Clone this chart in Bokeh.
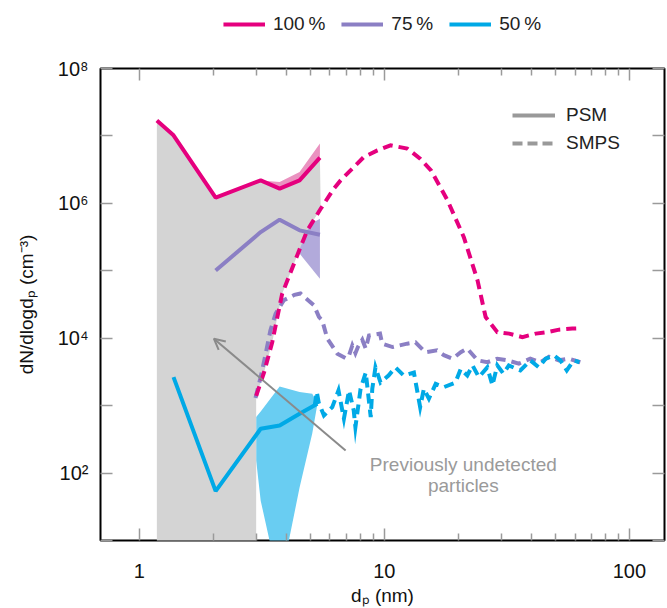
from bokeh.plotting import figure
from bokeh.layouts import column
from bokeh.models import (Legend, LegendItem, Arrow, OpenHead, FixedTicker, LogAxis,
                          Range1d)
from bokeh.core.properties import value
from bokeh.embed import file_html
from bokeh.resources import INLINE

# ---------------- data ----------------
series_labels = ["100\u2009%", "75\u2009%", "50\u2009%"]
colors = ["#e5007e", "#8b7fc4", "#00a9e6"]
band_colors = ["#ea92c0", "#b2aadb", "#69cdf2"]

# PSM (solid)
psm_100_d = [1.18, 1.38, 2.05, 3.13, 3.74, 4.51, 5.46]
psm_100 = [1.70e7, 1.02e7, 1.22e6, 2.19e6, 1.65e6, 2.19e6, 4.76e6]
psm_75_d = [2.05, 3.13, 3.74, 4.51, 5.46]
psm_75 = [1.01e5, 3.75e5, 5.73e5, 3.98e5, 3.43e5]
psm_50_d = [1.38, 2.05, 3.13, 3.74, 4.51, 5.33]
psm_50 = [2.65e3, 54, 454, 508, 759, 1.07e3]

# PSM uncertainty bands
band_100_d = [3.13, 3.74, 4.51, 5.46]
band_100_lo = [2.19e6, 1.65e6, 2.19e6, 4.76e6]
band_100_hi = [2.19e6, 2.07e6, 2.91e6, 7.7e6]
band_75_d = [4.51, 5.46]
band_75_lo = [1.8e5, 7.6e4]
band_75_hi = [3.98e5, 5.9e5]
band_50_d = [3.0, 3.13, 3.74, 4.51, 5.08, 5.33]
band_50_lo = [154, 39, 2.1, 61, 387, 1.05e3]
band_50_hi = [676, 820, 1.93e3, 1.6e3, 1.5e3, 1.1e3]

# SMPS (dashed)
smps_100_d = [3.0, 3.23, 3.49, 3.66, 3.83, 4.55, 4.85, 5.5, 6.22, 6.63, 8.25, 9.37,
              10.6, 12.4, 14.0, 15.5, 18.1, 21.1, 24.0, 25.9, 28.9, 32.3, 36.6,
              41.5, 46.3, 51.6, 58.5, 62.0]
smps_100 = [1.4e3, 3.1e3, 8.8e3, 2.06e4, 4.57e4, 2.25e5, 3.98e5, 8.3e5, 1.65e6,
            2.19e6, 4.87e6, 6.1e6, 7.26e6, 6.5e6, 4.6e6, 3.09e6, 1.11e6, 3.16e5,
            7.2e4, 2.06e4, 1.23e4, 1.17e4, 1.04e4, 1.17e4, 1.23e4, 1.34e4, 1.39e4,
            1.4e4]
smps_75_d = [2.98, 3.13, 3.28, 3.43, 3.6, 3.89, 4.3, 4.55, 5.16, 5.41, 5.58, 5.85,
             6.43, 7.0, 7.18, 7.4, 7.62, 7.8, 8.13, 8.4, 8.66, 9.6, 9.8, 10.8, 12.4,
             13.4, 14.7, 16.4, 17.5, 19.0, 20.5, 21.8, 24.0, 26.3, 28.9, 31.7,
             35.4, 39.4, 43.3, 47.0, 51.6, 56.8, 63.0]
smps_75 = [1.3e3, 2.65e3, 5.9e3, 1.31e4, 2.3e4, 3.66e4, 4.4e4, 4.6e4, 3.08e4,
           2.07e4, 1.84e4, 9.9e3, 5.9e3, 5.0e3, 5.57e3, 7.8e3, 6.0e3, 7.4e3,
           9.5e3, 7.0e3, 1.1e4, 1.17e4, 8.3e3, 7.4e3, 8.3e3, 8.7e3, 6.2e3,
           6.6e3, 5.6e3, 4.97e3, 6.2e3, 7.0e3, 4.7e3, 4.4e3, 4.97e3, 4.7e3,
           4.2e3, 4.97e3, 4.4e3, 5.3e3, 4.7e3, 4.97e3, 4.4e3]
smps_50_d = [5.2, 5.3, 5.4, 5.67, 6.13, 6.5, 6.84, 7.18, 7.5, 7.62, 8.0, 8.4, 8.8,
             8.93, 9.2, 9.65, 10.4, 11.1, 12.0, 13.2, 14.0, 14.5, 15.2, 16.2,
             17.5, 19.5, 20.5, 21.8, 22.9, 24.3, 26.3, 27.6, 28.9, 30.6, 32.2,
             35.9, 39.4, 42.7, 45.5, 49.2, 52.3, 55.5, 59.2, 62.5]
smps_50 = [1.0e3, 1.6e3, 1.1e3, 715, 950, 1.68e3, 640, 1.68e3, 850, 480, 1.78e3,
           3.1e3, 675, 1.78e3, 3.7e3, 2.2e3, 2.8e3, 3.7e3, 2.8e3, 3.1e3, 950,
           1.78e3, 1.27e3, 2.1e3, 1.88e3, 2.2e3, 3.5e3, 2.8e3, 3.95e3, 2.65e3,
           3.7e3, 2.0e3, 3.95e3, 2.98e3, 3.95e3, 3.33e3, 4.7e3, 3.7e3, 4.97e3,
           5.57e3, 4.7e3, 3.33e3, 4.7e3, 4.4e3]

x_major = [1, 10, 100]
x_minor = [2, 3, 4, 5, 6, 7, 8, 9, 20, 30, 40, 50, 60, 70, 80, 90]
y_labelled = [1e2, 1e4, 1e6, 1e8]
y_unlabelled = [10, 1e3, 1e5, 1e7]
y_label_text = {100: "10\u00b2", 10000: "10\u2074", 1000000: "10\u2076",
                100000000: "10\u2078"}
X_MIN, X_MAX = 0.695, 139
Y_MIN, Y_MAX = 10, 1e8

annot_text = "Previously undetected\nparticles"
annot_pos = (21.0, 95.0)
arrow_tail = (6.95, 216)
arrow_head = (2.016, 9.85e3)
PSM_CUT = 5.5

FONT = "Liberation Sans"

# ---------------- legend strip (above the plot) ----------------
lf = figure(width=667, height=48, x_range=(0, 1), y_range=(0, 1),
            output_backend="svg", toolbar_location=None, tools="",
            x_axis_location=None, y_axis_location=None,
            min_border_left=100, min_border_right=3, min_border_top=0,
            min_border_bottom=0)
lf.grid.visible = False
lf.outline_line_color = None
lf.background_fill_color = "white"
lf.border_fill_color = "white"
# legend-only renderers (their points lie outside the strip's ranges)
leg_r = [lf.line([5, 6], [5, 6], line_color=c, line_width=4) for c in colors]
top_leg = Legend(items=[LegendItem(label=lab, renderers=[r])
                        for lab, r in zip(series_labels, leg_r)],
                 orientation="horizontal", location="center",
                 glyph_width=42, glyph_height=20, label_height=20,
                 label_standoff=8, spacing=16,
                 padding=0, margin=0, border_line_color=None,
                 background_fill_alpha=0,
                 label_text_font=FONT, label_text_font_size="19px",
                 label_text_color="#222222")
lf.add_layout(top_leg)

# ---------------- main figure ----------------
p = figure(width=667, height=560, x_axis_type="log", y_axis_type="log",
           x_range=Range1d(X_MIN, X_MAX), y_range=Range1d(Y_MIN, Y_MAX),
           output_backend="svg", toolbar_location=None, tools="",
           min_border_left=100, min_border_right=3, min_border_top=20,
           min_border_bottom=68)
p.grid.visible = False
p.outline_line_color = "black"
p.outline_line_width = 2
p.background_fill_color = "white"
p.border_fill_color = "white"

# bands (under the grey region)
p.varea(x=band_100_d, y1=band_100_lo, y2=band_100_hi, fill_color=band_colors[0])
p.varea(x=band_75_d, y1=band_75_lo, y2=band_75_hi, fill_color=band_colors[1])
p.varea(x=band_50_d, y1=band_50_lo, y2=band_50_hi, fill_color=band_colors[2])

# grey region: below PSM 100 %, left of the SMPS 100 % curve
gx = list(psm_100_d)
gy = list(psm_100)
sm = [(d, v) for d, v in zip(smps_100_d, smps_100) if d <= PSM_CUT]
for d, v in reversed(sm):
    gx.append(d)
    gy.append(v)
gx += [smps_100_d[0], psm_100_d[0]]
gy += [Y_MIN * 0.5, Y_MIN * 0.5]
p.patch(gx, gy, fill_color="#d4d4d4", line_color=None)

# arrow + annotation
p.add_layout(Arrow(end=OpenHead(size=11, line_color="#8a8a8a", line_width=2),
                   x_start=arrow_tail[0], y_start=arrow_tail[1],
                   x_end=arrow_head[0], y_end=arrow_head[1],
                   line_color="#8a8a8a", line_width=2))
p.text(x=[annot_pos[0]], y=[annot_pos[1]], text=[annot_text],
       text_font=value(FONT), text_font_size="19px", text_color="#9a9a9a",
       text_align="center", text_baseline="middle", text_line_height=1.0)

# SMPS dashed
dash = "10 6"
p.line(smps_75_d, smps_75, line_color=colors[1], line_width=4, line_dash=dash,
       line_join="miter")
p.line(smps_50_d, smps_50, line_color=colors[2], line_width=4, line_dash=dash,
       line_join="miter")
p.line(smps_100_d, smps_100, line_color=colors[0], line_width=4, line_dash=dash,
       line_join="miter")

# PSM solid
p.line(psm_100_d, psm_100, line_color=colors[0], line_width=4)
p.line(psm_75_d, psm_75, line_color=colors[1], line_width=4)
p.line(psm_50_d, psm_50, line_color=colors[2], line_width=4)

# inner legend (PSM / SMPS)
g1 = p.line([1, 1], [1, 1], line_color="#999999", line_width=4)
g2 = p.line([1, 1], [1, 1], line_color="#999999", line_width=4, line_dash="10 5")
in_leg = Legend(items=[LegendItem(label="PSM", renderers=[g1]),
                       LegendItem(label="SMPS", renderers=[g2])],
                location=(412, 386), glyph_width=43, glyph_height=20,
                label_standoff=11, spacing=6, padding=0, margin=0,
                border_line_color=None, background_fill_alpha=0,
                label_text_font=FONT, label_text_font_size="19px",
                label_text_color="#222222")
p.add_layout(in_leg)


def style_axis(ax, is_x):
    if is_x:
        ax.ticker = FixedTicker(ticks=x_major, minor_ticks=x_minor)
        ax.minor_tick_in = 7
    else:
        ax.ticker = FixedTicker(ticks=y_labelled, minor_ticks=y_unlabelled)
        ax.minor_tick_in = 12
    ax.axis_line_color = None
    ax.major_tick_in = 12
    ax.major_tick_out = 0
    ax.minor_tick_out = 0
    ax.major_tick_line_color = "#9a9a9a"
    ax.minor_tick_line_color = "#9a9a9a"
    ax.major_tick_line_width = 1.5
    ax.minor_tick_line_width = 1.5
    ax.major_label_text_font = FONT
    ax.major_label_text_color = "#111111"
    ax.major_label_text_font_size = "20px"
    ax.axis_label_text_font = FONT
    ax.axis_label_text_font_style = "normal"
    ax.axis_label_text_color = "#111111"
    ax.axis_label_text_font_size = "19px"


bx = p.xaxis[0]
style_axis(bx, True)
bx.major_label_overrides = {1: "1", 10: "10", 100: "100"}
bx.major_label_standoff = 23
bx.axis_label = "d\u209a (nm)"
bx.axis_label_standoff = 4

ly = p.yaxis[0]
style_axis(ly, False)
ly.major_label_overrides = y_label_text
ly.major_label_standoff = 12
ly.axis_label = "dN/dlogd\u209a (cm\u207b\u00b3)"
ly.axis_label_standoff = 18

# mirrored tick axes (top / right) with invisible labels
top_ax = LogAxis()
style_axis(top_ax, True)
top_ax.major_label_text_alpha = 0
top_ax.major_label_text_font_size = "2px"
top_ax.major_label_standoff = 0
p.add_layout(top_ax, "above")
right_ax = LogAxis()
style_axis(right_ax, False)
right_ax.major_label_text_alpha = 0
right_ax.major_label_text_font_size = "2px"
right_ax.major_label_standoff = 0
p.add_layout(right_ax, "right")

layout = column(lf, p, spacing=0)
open("out.html", "w").write(file_html(layout, INLINE))
